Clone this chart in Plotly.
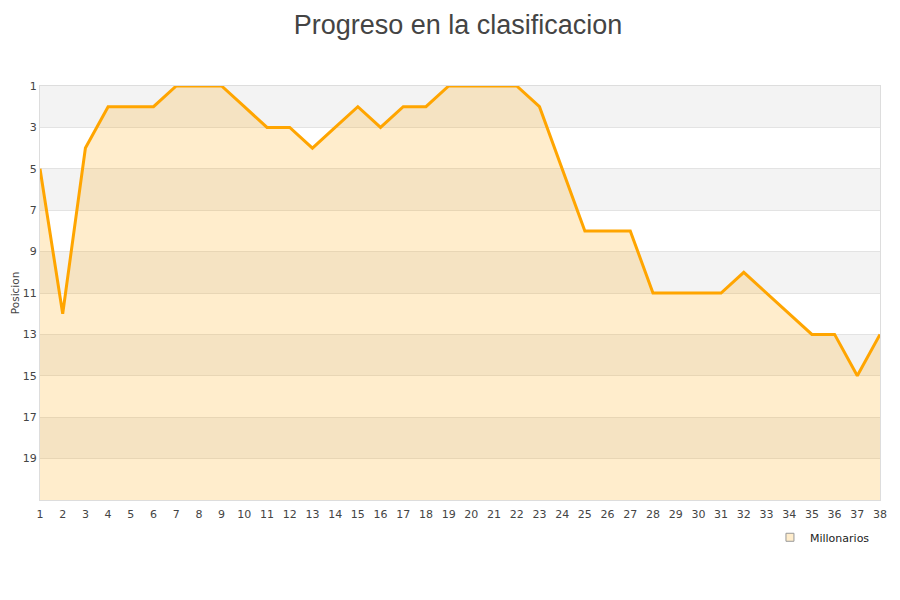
import plotly.graph_objects as go

jornadas = list(range(1, 39))
posiciones = [5, 12, 4, 2, 2, 2, 1, 1, 1, 2, 3, 3, 4, 3, 2, 3, 2, 2, 1, 1,
              1, 1, 2, 5, 8, 8, 8, 11, 11, 11, 11, 10, 11, 12, 13, 13, 15, 13]
y_ticks = [1, 3, 5, 7, 9, 11, 13, 15, 17, 19]
team = "Millonarios"
bottom = 21

fig = go.Figure()

# gray bands
for lo in [1, 5, 9, 13, 17]:
    fig.add_shape(type="rect", xref="paper", yref="y", x0=0, x1=1, y0=lo, y1=lo + 2,
                  fillcolor="#f3f3f3", line_width=0, layer="below")

fig.add_trace(go.Scatter(x=jornadas, y=[bottom] * len(jornadas), mode="lines",
                         line=dict(width=0), showlegend=False, hoverinfo="skip"))
fig.add_trace(go.Scatter(x=jornadas, y=posiciones, mode="lines", name=team,
                         line=dict(color="#FFA500", width=3), fill="tonexty",
                         fillcolor="rgba(255,165,0,0.2)", showlegend=False))
fig.add_trace(go.Scatter(x=[None], y=[None], mode="markers", name=team,
                         marker=dict(symbol="square", size=8, color="#FFEDCC",
                                     line=dict(color="#999", width=1))))

fig.add_annotation(text="Posicion", xref="paper", yref="paper", x=-0.0295, y=0.5,
                   xanchor="center", yanchor="middle", textangle=-90, showarrow=False,
                   font=dict(family="DejaVu Sans, sans-serif", size=10.5, color="#444"))

fig.update_layout(
    width=900, height=600,
    paper_bgcolor="white", plot_bgcolor="white",
    margin=dict(l=32, r=28, t=78, b=108, autoexpand=False),
    title=dict(text="Progreso en la clasificacion", x=0.5, xanchor="center", y=0.989,
               yanchor="top", font=dict(family="Liberation Sans, Arial, sans-serif", size=27, color="#444")),
    font=dict(family="DejaVu Sans, sans-serif", size=11, color="#444"),
    legend=dict(x=0.869, xanchor="left", y=-0.055, yanchor="top", orientation="h",
                font=dict(size=11, color="#222"), bgcolor="rgba(0,0,0,0)"),
    xaxis=dict(range=[1, 38], tickvals=jornadas, showgrid=False, zeroline=False,
               showline=True, linecolor="#ddd", mirror=True, ticks="outside", ticklen=4,
               tickcolor="rgba(0,0,0,0)", automargin=False),
    yaxis=dict(range=[bottom, 1], tickvals=y_ticks, showgrid=True, gridcolor="#e3e3e3",
               zeroline=False, showline=True, linecolor="#ddd", mirror=True, ticks="",
               automargin=False),
)

fig.write_html("out.html")
